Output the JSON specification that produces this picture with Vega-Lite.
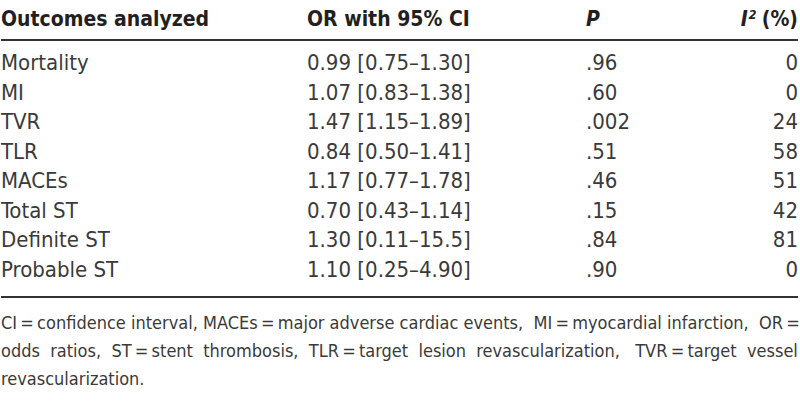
{
  "$schema": "https://vega.github.io/schema/vega-lite/v6.json",
  "padding": 0,
  "spacing": 0,
  "bounds": "flush",
  "background": "white",
  "config": {"view": {"stroke": null}, "concat": {"spacing": 0}},
  "datasets": {
    "cells": [
      {"row": -0.45, "col": "Outcomes", "text": "Outcomes analyzed", "kind": "head"},
      {"row": -0.45, "col": "OR", "text": "OR with 95% CI", "kind": "head"},
      {"row": -0.45, "col": "P", "text": "P", "kind": "headit"},
      {"row": -0.45, "col": "I2", "text": "I²", "kind": "headit"},
      {"row": -0.45, "col": "I2", "text": "(%)", "kind": "head"},
      {"row": 1, "col": "Outcomes", "text": "Mortality", "kind": "body"},
      {"row": 1, "col": "OR", "text": "0.99 [0.75–1.30]", "kind": "body"},
      {"row": 1, "col": "P", "text": ".96", "kind": "body"},
      {"row": 1, "col": "I2", "text": "0", "kind": "body"},
      {"row": 2, "col": "Outcomes", "text": "MI", "kind": "body"},
      {"row": 2, "col": "OR", "text": "1.07 [0.83–1.38]", "kind": "body"},
      {"row": 2, "col": "P", "text": ".60", "kind": "body"},
      {"row": 2, "col": "I2", "text": "0", "kind": "body"},
      {"row": 3, "col": "Outcomes", "text": "TVR", "kind": "body"},
      {"row": 3, "col": "OR", "text": "1.47 [1.15–1.89]", "kind": "body"},
      {"row": 3, "col": "P", "text": ".002", "kind": "body"},
      {"row": 3, "col": "I2", "text": "24", "kind": "body"},
      {"row": 4, "col": "Outcomes", "text": "TLR", "kind": "body"},
      {"row": 4, "col": "OR", "text": "0.84 [0.50–1.41]", "kind": "body"},
      {"row": 4, "col": "P", "text": ".51", "kind": "body"},
      {"row": 4, "col": "I2", "text": "58", "kind": "body"},
      {"row": 5, "col": "Outcomes", "text": "MACEs", "kind": "body"},
      {"row": 5, "col": "OR", "text": "1.17 [0.77–1.78]", "kind": "body"},
      {"row": 5, "col": "P", "text": ".46", "kind": "body"},
      {"row": 5, "col": "I2", "text": "51", "kind": "body"},
      {"row": 6, "col": "Outcomes", "text": "Total ST", "kind": "body"},
      {"row": 6, "col": "OR", "text": "0.70 [0.43–1.14]", "kind": "body"},
      {"row": 6, "col": "P", "text": ".15", "kind": "body"},
      {"row": 6, "col": "I2", "text": "42", "kind": "body"},
      {"row": 7, "col": "Outcomes", "text": "Definite ST", "kind": "body"},
      {"row": 7, "col": "OR", "text": "1.30 [0.11–15.5]", "kind": "body"},
      {"row": 7, "col": "P", "text": ".84", "kind": "body"},
      {"row": 7, "col": "I2", "text": "81", "kind": "body"},
      {"row": 8, "col": "Outcomes", "text": "Probable ST", "kind": "body"},
      {"row": 8, "col": "OR", "text": "1.10 [0.25–4.90]", "kind": "body"},
      {"row": 8, "col": "P", "text": ".90", "kind": "body"},
      {"row": 8, "col": "I2", "text": "0", "kind": "body"},
      {"row": 9.85, "col": "Outcomes", "text": "CI\u2009=\u2009confidence interval, MACEs\u2009=\u2009major adverse cardiac events,\u00a0 MI\u2009=\u2009myocardial infarction,\u00a0 OR\u2009=", "kind": "foot"},
      {"row": 10.8, "col": "Outcomes", "text": "odds\u00a0 ratios,\u00a0 ST\u2009=\u2009stent\u00a0 thrombosis,\u00a0 TLR\u2009=\u2009target\u00a0 lesion\u00a0 revascularization,\u00a0\u00a0 TVR\u2009=\u2009target\u00a0 vessel", "kind": "foot"},
      {"row": 11.75, "col": "Outcomes", "text": "revascularization.", "kind": "foot"}
    ],
    "rules": [
      {"row": 0.22},
      {"row": 8.93}
    ]
  },
  "hconcat": [
    {
      "width": 306, "height": 408,
      "encoding": {
        "y": {"field": "row", "type": "quantitative", "axis": null, "scale": {"domain": [-1.136, 12.695], "reverse": true, "nice": false, "zero": false}},
        "x": {"datum": 0, "type": "quantitative", "axis": null, "scale": {"domain": [0, 1], "nice": false, "zero": false}}
      },
      "layer": [
        {"data": {"name": "rules"}, "mark": {"type": "rule", "stroke": "#333333", "strokeWidth": 2}, "encoding": {"x2": {"datum": 1}}},
        {"data": {"name": "cells"}, "transform": [{"filter": "datum.col === 'Outcomes' && datum.kind === 'head'"}],
         "mark": {"type": "text", "align": "left", "baseline": "middle", "font": "DejaVu Sans Condensed", "fontSize": 21, "fontWeight": "bold", "fill": "#231f20"},
         "encoding": {"text": {"field": "text"}}},
        {"data": {"name": "cells"}, "transform": [{"filter": "datum.col === 'Outcomes' && datum.kind === 'body'"}],
         "mark": {"type": "text", "align": "left", "baseline": "middle", "font": "DejaVu Sans Condensed", "fontSize": 22, "fill": "#3a3a3a"},
         "encoding": {"text": {"field": "text"}}},
        {"data": {"name": "cells"}, "transform": [{"filter": "datum.kind === 'foot'"}],
         "mark": {"type": "text", "align": "left", "baseline": "middle", "font": "DejaVu Sans Condensed", "fontSize": 18, "fill": "#3a3a3a"},
         "encoding": {"text": {"field": "text"}}}
      ]
    },
    {
      "width": 279, "height": 408,
      "encoding": {
        "y": {"field": "row", "type": "quantitative", "axis": null, "scale": {"domain": [-1.136, 12.695], "reverse": true, "nice": false, "zero": false}},
        "x": {"datum": 0, "type": "quantitative", "axis": null, "scale": {"domain": [0, 1], "nice": false, "zero": false}}
      },
      "layer": [
        {"data": {"name": "rules"}, "mark": {"type": "rule", "stroke": "#333333", "strokeWidth": 2}, "encoding": {"x2": {"datum": 1}}},
        {"data": {"name": "cells"}, "transform": [{"filter": "datum.col === 'OR' && datum.kind === 'head'"}],
         "mark": {"type": "text", "align": "left", "baseline": "middle", "font": "DejaVu Sans Condensed", "fontSize": 21, "fontWeight": "bold", "fill": "#231f20"},
         "encoding": {"text": {"field": "text"}}},
        {"data": {"name": "cells"}, "transform": [{"filter": "datum.col === 'OR' && datum.kind === 'body'"}],
         "mark": {"type": "text", "align": "left", "baseline": "middle", "font": "DejaVu Sans Condensed", "fontSize": 22, "fill": "#3a3a3a"},
         "encoding": {"text": {"field": "text"}}}
      ]
    },
    {
      "width": 115, "height": 408,
      "encoding": {
        "y": {"field": "row", "type": "quantitative", "axis": null, "scale": {"domain": [-1.136, 12.695], "reverse": true, "nice": false, "zero": false}},
        "x": {"datum": 0, "type": "quantitative", "axis": null, "scale": {"domain": [0, 1], "nice": false, "zero": false}}
      },
      "layer": [
        {"data": {"name": "rules"}, "mark": {"type": "rule", "stroke": "#333333", "strokeWidth": 2}, "encoding": {"x2": {"datum": 1}}},
        {"data": {"name": "cells"}, "transform": [{"filter": "datum.col === 'P' && datum.kind === 'headit'"}],
         "mark": {"type": "text", "align": "left", "baseline": "middle", "font": "DejaVu Sans Condensed", "fontSize": 21, "fontWeight": "bold", "fontStyle": "italic", "fill": "#231f20"},
         "encoding": {"text": {"field": "text"}}},
        {"data": {"name": "cells"}, "transform": [{"filter": "datum.col === 'P' && datum.kind === 'body'"}],
         "mark": {"type": "text", "align": "left", "baseline": "middle", "font": "DejaVu Sans Condensed", "fontSize": 22, "fill": "#3a3a3a"},
         "encoding": {"text": {"field": "text"}}}
      ]
    },
    {
      "width": 97, "height": 408,
      "encoding": {
        "y": {"field": "row", "type": "quantitative", "axis": null, "scale": {"domain": [-1.136, 12.695], "reverse": true, "nice": false, "zero": false}},
        "x": {"datum": 1, "type": "quantitative", "axis": null, "scale": {"domain": [0, 1], "nice": false, "zero": false}}
      },
      "layer": [
        {"data": {"name": "rules"}, "mark": {"type": "rule", "stroke": "#333333", "strokeWidth": 2}, "encoding": {"x": {"datum": 0}, "x2": {"datum": 1}}},
        {"data": {"name": "cells"}, "transform": [{"filter": "datum.col === 'I2' && datum.kind === 'headit'"}],
         "mark": {"type": "text", "align": "right", "baseline": "middle", "dx": -42, "font": "DejaVu Sans Condensed", "fontSize": 21, "fontWeight": "bold", "fontStyle": "italic", "fill": "#231f20"},
         "encoding": {"text": {"field": "text"}}},
        {"data": {"name": "cells"}, "transform": [{"filter": "datum.col === 'I2' && datum.kind === 'head'"}],
         "mark": {"type": "text", "align": "right", "baseline": "middle", "font": "DejaVu Sans Condensed", "fontSize": 21, "fontWeight": "bold", "fill": "#231f20"},
         "encoding": {"text": {"field": "text"}}},
        {"data": {"name": "cells"}, "transform": [{"filter": "datum.col === 'I2' && datum.kind === 'body'"}],
         "mark": {"type": "text", "align": "right", "baseline": "middle", "font": "DejaVu Sans Condensed", "fontSize": 22, "fill": "#3a3a3a"},
         "encoding": {"text": {"field": "text"}}}
      ]
    }
  ]
}
